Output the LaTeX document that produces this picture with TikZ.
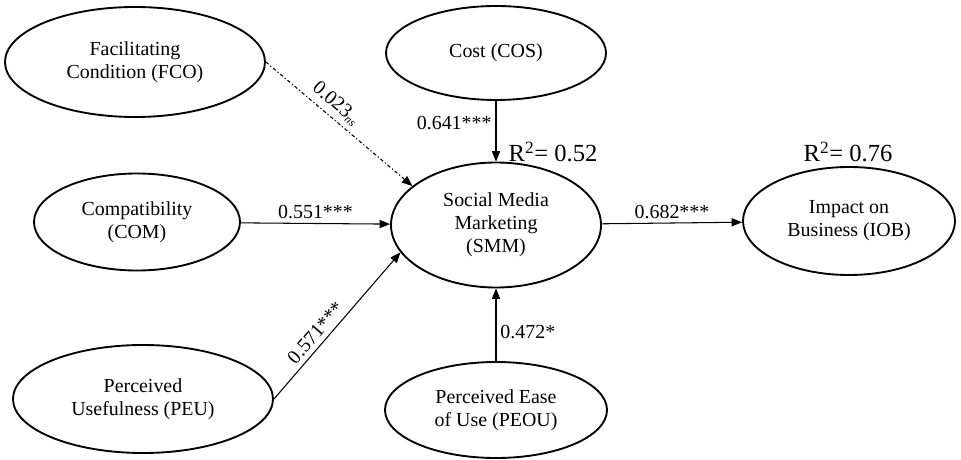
\documentclass[tikz,border=0pt]{standalone}
\usepackage{fontspec}
\setmainfont{Liberation Serif}
\usetikzlibrary{shapes.geometric,arrows.meta}

\begin{document}
\begin{tikzpicture}[x=0.03cm,y=0.03cm,
    construct/.style={draw,ellipse,line width=1.6pt,inner sep=0pt,align=center,font=\fontsize{17}{19.5}\selectfont},
    effect/.style={-{Triangle[length=9pt,width=7pt]},line width=0.9pt},
    coef/.style={font=\fontsize{17}{19.5}\selectfont}]
    \useasboundingbox (0,0) rectangle (961,-460);

    % Constructs %
    \node[construct,minimum width=7.8cm,minimum height=3.3cm] (fco) at (135,-62) {Facilitating\\Condition (FCO)};
    \node[construct,minimum width=6.6cm,minimum height=2.82cm] (cos) at (496,-53) {Cost (COS)};
    \node[construct,minimum width=6.18cm,minimum height=2.91cm] (com) at (137,-222) {Compatibility\\(COM)};
    \node[construct,minimum width=6.3cm,minimum height=3.75cm] (smm) at (496,-225) {Social Media\\Marketing\\(SMM)};
    \node[construct,minimum width=6.36cm,minimum height=3.24cm] (iob) at (849,-221) {Impact on\\Business (IOB)};
    \node[construct,minimum width=7.8cm,minimum height=3.24cm] (peu) at (143,-399) {Perceived\\Usefulness (PEU)};
    \node[construct,minimum width=6.66cm,minimum height=2.88cm] (peou) at (496,-410) {Perceived Ease\\of Use (PEOU)};

    % R squared %
    \node[font=\fontsize{21}{24}\selectfont] (rsmm) at (553,-152) {R\textsuperscript{2}= 0.52};
    \node[font=\fontsize{21}{24}\selectfont] (riob) at (848,-152) {R\textsuperscript{2}= 0.76};

    % Paths %
    \draw[effect,dash pattern=on 3pt off 2pt on 1pt off 2pt] (fco.east) -- (smm.155)
        node[coef,sloped,above,pos=0.42,inner sep=4pt] (bfco) {0.023\textsubscript{\fontsize{10}{10}\selectfont\itshape ns}};
    \draw[effect] (cos) -- (smm) node[coef,left,pos=0.37] (bcos) {0.641***};
    \draw[effect] (com) -- (smm) node[coef,above,midway] (bcom) {0.551***};
    \draw[effect] (peu.east) -- (smm.196)
        node[coef,sloped,above,pos=0.4,inner sep=4pt] (bpeu) {0.571***};
    \draw[effect] (peou) -- (smm) node[coef,right,pos=0.4] (bpeou) {0.472*};
    \draw[effect] (smm) -- (iob) node[coef,above,midway] (bsmm) {0.682***};
\end{tikzpicture}
\end{document}
